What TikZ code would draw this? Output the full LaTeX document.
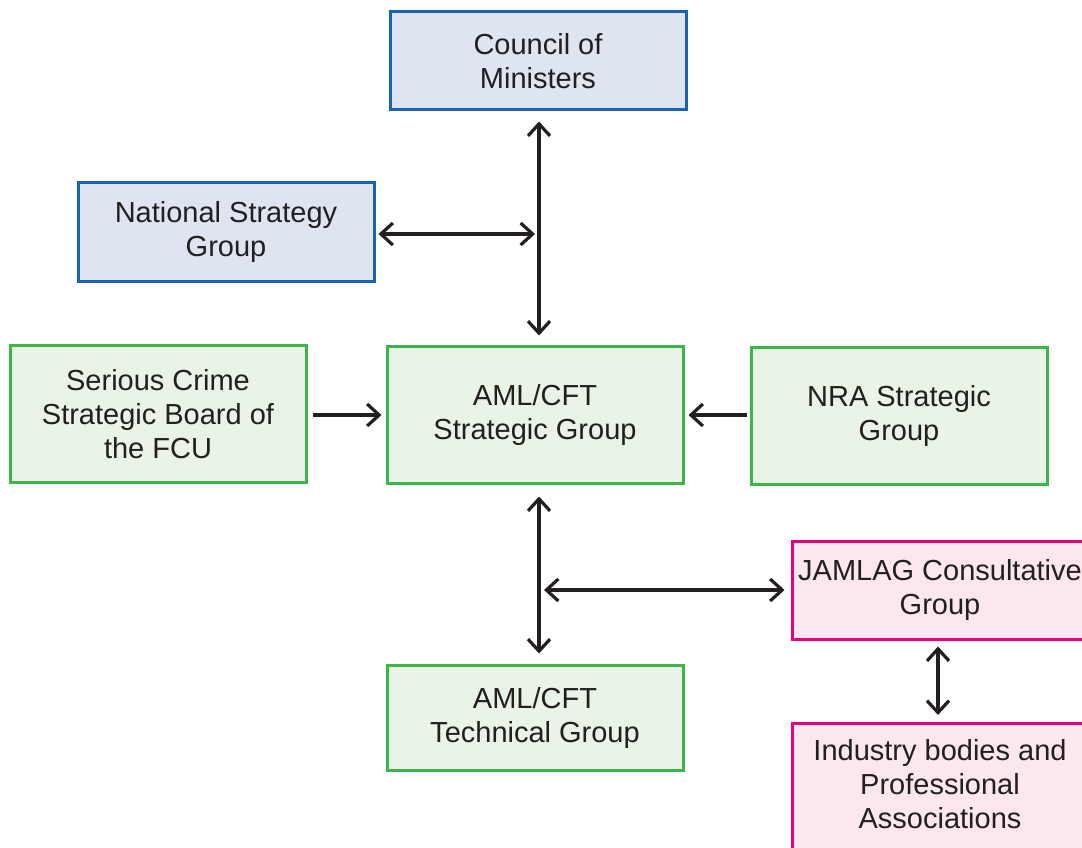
\documentclass[tikz,border=0pt]{standalone}
\usepackage{fontspec}
\setmainfont{Liberation Sans}
\usetikzlibrary{arrows.meta}
\definecolor{bluebd}{HTML}{1A63B0}
\definecolor{bluefl}{HTML}{DEE5F1}
\definecolor{greenbd}{HTML}{3CB64A}
\definecolor{greenfl}{HTML}{E9F3E6}
\definecolor{pinkbd}{HTML}{E5007D}
\definecolor{pinkfl}{HTML}{FCE7F1}
\definecolor{ink}{HTML}{231F20}
\tikzset{
  box/.style={draw, line width=3pt, minimum width=296pt, inner sep=0pt, align=center,
    font=\fontsize{29}{34}\selectfont, text=ink},
  bluebox/.style={box, draw=bluebd, fill=bluefl},
  greenbox/.style={box, draw=greenbd, fill=greenfl},
  pinkbox/.style={box, draw=pinkbd, fill=pinkfl},
  txt/.style={align=center, inner sep=0pt, font=\fontsize{29}{34}\selectfont, text=ink},
  arr/.style={draw=ink, line width=3.2pt, {Straight Barb[length=12pt,width=22pt]}-{Straight Barb[length=12pt,width=22pt]}},
  arrone/.style={draw=ink, line width=3.2pt, -{Straight Barb[length=12pt,width=22pt]}}
}
\begin{document}
\begin{tikzpicture}[x=1pt,y=-1pt]
\useasboundingbox (0,0) rectangle (1082,848);
\clip (0,0) rectangle (1082,848);
\node[bluebox, minimum height=98pt] (council) at (538,61) {Council of\\Ministers};
\node[bluebox, minimum height=98pt] (nsg) at (226,232) {National Strategy\\Group};
\node[greenbox, minimum height=137pt] (scsb) at (158,414) {Serious Crime\\Strategic Board of\\the FCU};
\node[greenbox, minimum height=137pt] (strat) at (535,414.5) {AML/CFT\\Strategic Group};
\node[greenbox, minimum height=137pt] (nra) at (899,415.5) {NRA Strategic\\Group};
\node[greenbox, minimum height=105pt] (tech) at (535,717.5) {AML/CFT\\Technical Group};
\node[pinkbox, minimum height=98pt] (jam) at (940,590) {JAMLAG Consultative\\Group};
\node[pinkbox, minimum height=150pt, anchor=north] (ind) at (940,722) {};
\node[txt] (indtxt) at (940,784) {Industry bodies and\\Professional\\Associations};
\coordinate (up) at (539,234);
\coordinate (mid) at (535,415);
\coordinate (low) at (539,590);
\draw[arr, shorten <=10pt, shorten >=9pt] (council.south -| up) -- (strat.north -| up);
\draw[arr, shorten <=3pt, shorten >=4pt] (nsg.east |- up) -- (up);
\draw[arrone, shorten <=5pt, shorten >=4pt] (scsb.east |- mid) -- (strat.west |- mid);
\draw[arrone, shorten <=3pt, shorten >=4pt] (nra.west |- mid) -- (strat.east |- mid);
\draw[arr, shorten <=12pt, shorten >=10pt] (strat.south -| low) -- (tech.north -| low);
\draw[arr, shorten <=5pt, shorten >=6pt] (low) -- (jam.west |- low);
\draw[arr, shorten <=6pt, shorten >=7pt] ([xshift=-2pt]jam.south) -- ([xshift=-2pt]ind.north);
\end{tikzpicture}
\end{document}
